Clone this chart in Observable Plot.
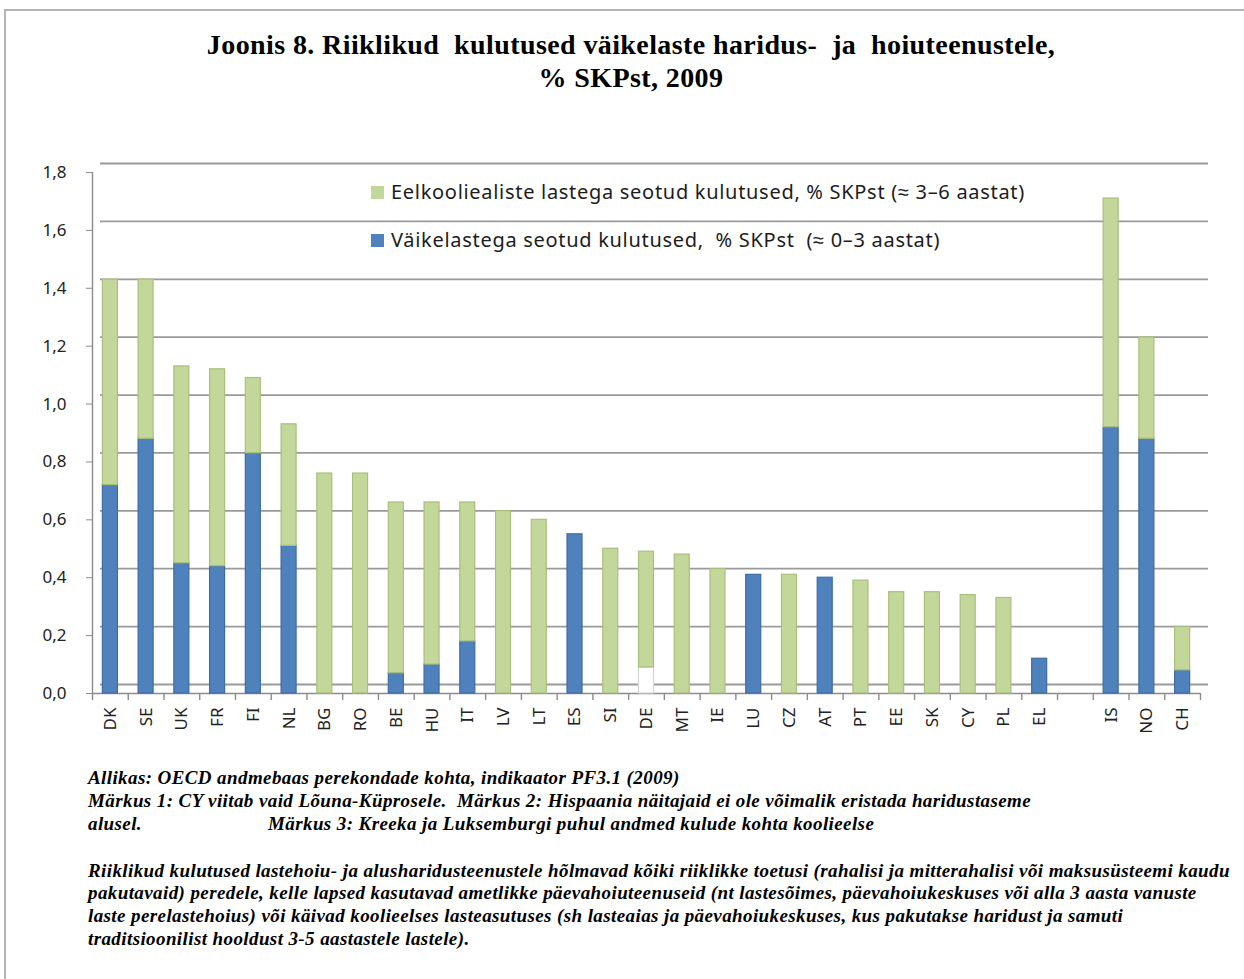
<!DOCTYPE html>
<html><head><meta charset="utf-8">
<script src="https://cdn.jsdelivr.net/npm/d3@7"></script>
<script src="https://cdn.jsdelivr.net/npm/@observablehq/plot@0.6"></script>
<style>
body{margin:0;background:#fff;}
#wrap{position:relative;width:1244px;height:979px;overflow:hidden;background:#fff;}
.frame{position:absolute;left:4px;top:9px;width:1300px;height:1000px;border-left:2px solid #b4b4b4;border-top:2px solid #b4b4b4;}
.title{position:absolute;left:0;width:1262px;text-align:center;font-family:"Liberation Serif",serif;font-weight:bold;font-size:28px;letter-spacing:0.4px;color:#000;white-space:nowrap;line-height:32px;}
#chart{position:absolute;left:0;top:140px;}
.leg{position:absolute;left:371px;font-family:"Noto Sans",sans-serif;font-size:20px;letter-spacing:0.7px;color:#1c1c1c;white-space:nowrap;line-height:24px;}
.leg span.sw{display:inline-block;width:13px;height:13px;margin-right:7px;vertical-align:0px;}
.note{position:absolute;left:88px;font-family:"Liberation Serif",serif;font-weight:bold;font-style:italic;font-size:19px;line-height:22px;color:#000;white-space:nowrap;letter-spacing:0.4px;}
</style></head>
<body><div id="wrap"><div class="frame"></div></div>
<script>
// ---- data ----
const countriesEU = ["DK","SE","UK","FR","FI","NL","BG","RO","BE","HU","IT","LV","LT","ES","SI","DE","MT","IE","LU","CZ","AT","PT","EE","SK","CY","PL","EL"];
const countriesOther = ["IS","NO","CH"];
const countries = [...countriesEU, ...countriesOther];
// Väikelastega seotud kulutused (≈0–3 aastat), % SKPst
const under3 = [0.72,0.88,0.45,0.44,0.83,0.51,0,0,0.07,0.10,0.18,0,0,0.55,0,0,0,0,0.41,0,0.40,0,0,0,0,0,0.12, 0.92,0.88,0.08];
// eristamata osa (DE)
const unassigned = [0,0,0,0,0,0,0,0,0,0,0,0,0,0,0,0.09,0,0,0,0,0,0,0,0,0,0,0, 0,0,0];
// Eelkooliealiste lastega seotud kulutused (≈3–6 aastat), % SKPst
const over3 = [0.71,0.55,0.68,0.68,0.26,0.42,0.76,0.76,0.59,0.56,0.48,0.63,0.60,0,0.50,0.40,0.48,0.43,0,0.41,0,0.39,0.35,0.35,0.34,0.33,0, 0.79,0.35,0.15];
const yTicks = [0,0.2,0.4,0.6,0.8,1.0,1.2,1.4,1.6,1.8];
const seriesNames = ["Väikelastega seotud kulutused,&nbsp; % SKPst&nbsp; (≈ 0–3 aastat)", "eristamata", "Eelkooliealiste lastega seotud kulutused, % SKPst (≈ 3–6 aastat)"];
const seriesFill = ["#4f81bd", "#ffffff", "#c4d79b"];
const seriesStroke = ["#3f6ca3", "#d6d6d6", "#a9bf7c"];

// ---- build tidy table ----
const gapSlot = " ";
const xDomain = [...countriesEU, gapSlot, ...countriesOther];
const seriesValues = [under3, unassigned, over3];
const rows = [];
seriesValues.forEach((vals, s) => {
  countries.forEach((c, i) => { if (vals[i] > 0) rows.push({country: c, series: seriesNames[s], value: vals[i], s}); });
});

const W = 1244, H = 610, mL = 92, mR = 44, mT = 32, mB = 57;
const step = (W - mL - mR) / xDomain.length;
const axisColor = "#8c8c8c";
const fmt = d => d3.format(".1f")(d).replace(".", ",");

const chart = Plot.plot({
  width: W, height: H,
  marginLeft: mL, marginRight: mR, marginTop: mT, marginBottom: mB,
  style: {fontFamily: "Noto Sans, sans-serif", color: "#222", background: "transparent"},
  x: {domain: xDomain, paddingInner: 0.58, paddingOuter: 0.29, round: false, label: null},
  y: {domain: [0, 1.8], label: null},
  color: {domain: seriesNames, range: seriesFill},
  marks: [
    // back-wall gridlines (3D look)
    Plot.ruleY(yTicks, {dx: 8, dy: -9, stroke: "#9a9a9a", strokeWidth: 1.8}),
    // front floor edge
    Plot.ruleY([0], {stroke: axisColor, strokeWidth: 1.4}),
    // left axis line
    Plot.ruleX([xDomain[0]], {dx: -step/2, y1: 0, y2: 1.8, stroke: axisColor, strokeWidth: 1.4}),
    // category boundary ticks
    Plot.ruleX(xDomain, {x: d => d, dx: -step/2, y1: 0, y2: -0.024, stroke: axisColor, strokeWidth: 1.4}),
    Plot.ruleX([xDomain[xDomain.length-1]], {dx: step/2, y1: 0, y2: -0.024, stroke: axisColor, strokeWidth: 1.4}),
    Plot.barY(rows, {x: "country", y: "value", fill: "series", stroke: d => seriesStroke[d.s], strokeWidth: 1.2}),
    Plot.axisY(yTicks, {tickSize: 6, tickPadding: 20, tickFormat: fmt, fontSize: 17, stroke: axisColor, fill: "#222"}),
    Plot.axisX({tickSize: 0, tickPadding: 14, tickRotate: -90, fontSize: 17, fill: "#222"})
  ]
});
chart.id = "chart";
const wrap = document.getElementById("wrap");
wrap.appendChild(chart);

function addDiv(cls, top, html, left) {
  const d = document.createElement("div");
  d.className = cls; d.style.top = top + "px"; d.innerHTML = html;
  if (left != null) d.style.left = left + "px";
  wrap.appendChild(d); return d;
}
addDiv("title", 29, "Joonis 8. Riiklikud&nbsp; kulutused väikelaste haridus-&nbsp; ja&nbsp; hoiuteenustele,");
addDiv("title", 62, "% SKPst, 2009");
// legend (order as in reference: pre-school first)
addDiv("leg", 180, `<span class="sw" style="background:${seriesFill[2]}"></span>${seriesNames[2]}`);
addDiv("leg", 228, `<span class="sw" style="background:${seriesFill[0]}"></span>${seriesNames[0]}`);
// notes
const notes = [
  [767, "Allikas: OECD andmebaas perekondade kohta, indikaator PF3.1 (2009)", 88],
  [790, "Märkus 1: CY viitab vaid Lõuna-Küprosele.&nbsp; Märkus 2: Hispaania näitajaid ei ole võimalik eristada haridustaseme", 88],
  [813, "alusel.", 88],
  [813, "Märkus 3: Kreeka ja Luksemburgi puhul andmed kulude kohta koolieelse", 268],
  [860, "Riiklikud kulutused lastehoiu- ja alusharidusteenustele hõlmavad kõiki riiklikke toetusi (rahalisi ja mitterahalisi või maksusüsteemi kaudu", 88],
  [882, "pakutavaid) peredele, kelle lapsed kasutavad ametlikke päevahoiuteenuseid (nt lastesõimes, päevahoiukeskuses või alla 3 aasta vanuste", 88],
  [905, "laste perelastehoius) või käivad koolieelses lasteasutuses (sh lasteaias ja päevahoiukeskuses, kus pakutakse haridust ja samuti", 88],
  [928, "traditsioonilist hooldust 3-5 aastastele lastele).", 88]
];
notes.forEach(([t, h, l]) => addDiv("note", t, h, l));
</script>
</body></html>
